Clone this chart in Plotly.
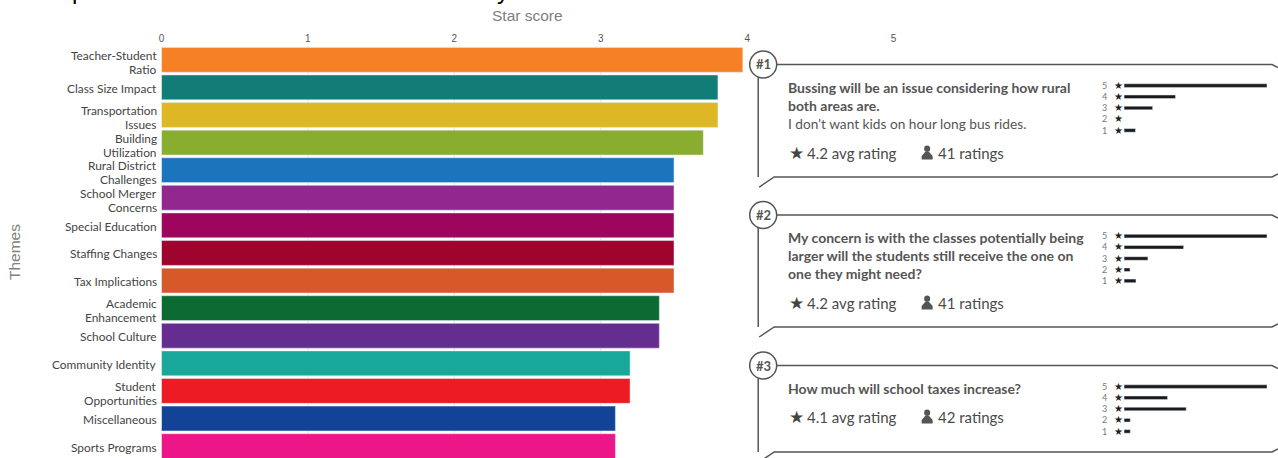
import plotly.graph_objects as go

W, H = 1278, 458

themes = ["Teacher-Student<br>Ratio", "Class Size Impact", "Transportation<br>Issues",
          "Building<br>Utilization", "Rural District<br>Challenges", "School Merger<br>Concerns",
          "Special Education", "Staffing Changes", "Tax Implications",
          "Academic<br>Enhancement", "School Culture", "Community Identity",
          "Student<br>Opportunities", "Miscellaneous", "Sports Programs"]
star_scores = [3.97, 3.8, 3.8, 3.7, 3.5, 3.5, 3.5, 3.5, 3.5, 3.4, 3.4, 3.2, 3.2, 3.1, 3.1]
bar_colors = ["#F58025", "#117D76", "#DDB824", "#89AD2E", "#1C75BC", "#92278F", "#9E065D",
              "#9E042E", "#D75828", "#0C6A33", "#662D91", "#17A899", "#ED1C24", "#134397", "#EC1689"]
score_ticks = [0, 1, 2, 3, 4, 5]
grid_scores = [1, 2, 3]

star_levels = [5, 4, 3, 2, 1]
comment_1_counts = [25, 9, 5, 0, 2]
comment_2_counts = [24, 10, 4, 1, 2]
comment_3_counts = [23, 7, 10, 1, 1]

comment_1_lines = ["<b>Bussing will be an issue considering how rural</b>",
                   "<b>both areas are.</b>",
                   "I don't want kids on hour long bus rides."]
comment_2_lines = ["<b>My concern is with the classes potentially being</b>",
                   "<b>larger will the students still receive the one on</b>",
                   "<b>one they might need?</b>"]
comment_3_lines = ["<b>How much will school taxes increase?</b>"]
avg_ratings = ["4.2", "4.2", "4.1"]
rating_counts = ["41", "41", "42"]

FONT = "Lato"
INK = "#555555"


def px(x):
    # Page pixel to paper fraction, with a small correction for the plot inset
    return (x - 2.5 * (1 - x / W)) / W


def py(y):
    return 1 - y / H


fig = go.Figure()
fig.add_bar(x=star_scores, y=themes, orientation="h", marker_color=bar_colors,
            width=0.9, xaxis="x", yaxis="y", showlegend=False)

# Full-width axes so paper coordinates line up with the page
fig.update_layout(
    width=W, height=H, autosize=False,
    margin=dict(l=0, r=0, t=0, b=0),
    paper_bgcolor="white", plot_bgcolor="white",
    showlegend=False,
    xaxis=dict(domain=[px(161), 1], range=[0, (W - 161) / 146.5], side="top",
               tickvals=score_ticks, ticks="", showline=False, zeroline=False,
               showgrid=False, anchor="y", ticklabelstandoff=1,
               tickfont=dict(family="Liberation Sans", size=10, color="#555555")),
    yaxis=dict(domain=[0, py(46)], range=[14.43, -0.5], type="category",
               categoryorder="array", categoryarray=themes, showticklabels=False,
               ticks="", showline=False, showgrid=False, zeroline=False, anchor="x"),
)

shapes = []
notes = []

# Score gridlines sit beneath the bars and stop short of the comment panels
for score in grid_scores:
    shapes.append(dict(type="line", xref="x", yref="paper", x0=score, x1=score, y0=0, y1=py(46),
                       layer="below", line=dict(color="#E4E4E4", width=1)))

# Theme names, written line by line to keep the tight two-line spacing
for theme in themes:
    parts = theme.split("<br>")
    offsets = [-4.5, 9.5] if len(parts) == 2 else [1]
    for part, offset in zip(parts, offsets):
        notes.append(dict(xref="paper", yref="y", x=px(159), y=theme, text=part, showarrow=False,
                          xanchor="right", yanchor="middle", yshift=-offset,
                          font=dict(family=FONT, size=11.9, color="#444444")))


def note(x, y, text, size, color=INK, family=FONT, anchor="left", angle=0):
    notes.append(dict(xref="paper", yref="paper", x=px(x), y=py(y), text=text, showarrow=False,
                      xanchor=anchor, yanchor="middle", textangle=angle,
                      font=dict(family=family, size=size, color=color)))


def line_path(d, width=1.5, color=INK, fill=None):
    shapes.append(dict(type="path", xref="paper", yref="paper", path=d,
                       line=dict(color=color, width=width), fillcolor=fill))


def to_path(points):
    return "M " + " L ".join(f"{px(a):.5f},{py(b):.5f}" for a, b in points)


def person_icon(cx, cy):
    # Head and shoulders
    shapes.append(dict(type="circle", xref="paper", yref="paper",
                       x0=px(cx - 3), x1=px(cx + 3), y0=py(cy - 7.5), y1=py(cy - 1),
                       fillcolor=INK, line=dict(width=0)))
    line_path(to_path([(cx - 2, cy - 1), (cx + 2, cy - 1), (cx + 5.5, cy + 3), (cx + 5.5, cy + 6.5),
                       (cx - 5.5, cy + 6.5), (cx - 5.5, cy + 3)]) + " Z", width=0, fill=INK)


def panel(rank, top, bottom, lines, avg, count, rating_y, first_line_y):
    cx = 763
    # Speech-bubble outline with its number badge
    line_path(to_path([(cx + 13.5, top), (1272, top), (1278, top + 3)]))
    line_path(to_path([(758, top + 13), (758, bottom)]))
    line_path(to_path([(759, bottom + 10), (774, bottom), (1272, bottom), (1278, bottom - 3)]))
    shapes.append(dict(type="circle", xref="paper", yref="paper",
                       x0=px(cx - 13.5), x1=px(cx + 13.5), y0=py(top - 13.5), y1=py(top + 13.5),
                       fillcolor="white", line=dict(color=INK, width=1.5)))
    note(cx, top, f"<b>#{rank}</b>", 13, anchor="center")
    for i, text in enumerate(lines):
        note(786, first_line_y + i * 18, text, 14 if "<b>" in text else 13.7)
    note(796, rating_y, "★", 17, color="#444444", family="DejaVu Sans", anchor="center")
    note(805, rating_y, f"{avg} avg rating", 15, color="#4a4a4a")
    person_icon(927, rating_y)
    note(936, rating_y, f"{count} ratings", 15, color="#4a4a4a")


panel(1, 64.5, 177, comment_1_lines, avg_ratings[0], rating_counts[0], 153, 87.5)
panel(2, 215, 327, comment_2_lines, avg_ratings[1], rating_counts[1], 303, 237.5)
panel(3, 365.5, 452, comment_3_lines, avg_ratings[2], rating_counts[2], 417, 388.5)

# Small rating histograms, one pair of axes per comment
histograms = [(comment_1_counts, 80), (comment_2_counts, 230.5), (comment_3_counts, 381)]
labels = [f'<span style="color:#777777">{s}</span>   '
          f'<span style="color:#222222;font-size:9.5px">★</span>' for s in star_levels]
for i, (counts, y_top) in enumerate(histograms, start=2):
    fig.add_bar(x=counts, y=star_levels, orientation="h", marker_color="#1A1A1A",
                width=0.32, xaxis=f"x{i}", yaxis=f"y{i}", showlegend=False)
    fig.update_layout({
        f"xaxis{i}": dict(domain=[px(1124), px(1267)], range=[0, max(counts)], visible=False,
                          anchor=f"y{i}"),
        f"yaxis{i}": dict(domain=[py(y_top + 56), py(y_top)], range=[0.5, 5.5], tickvals=star_levels,
                          ticktext=labels, ticks="", showline=False, showgrid=False, zeroline=False,
                          anchor=f"x{i}", tickfont=dict(family=FONT, size=9)),
    })

# Axis titles and the lower edge of the heading cut off by the page top
note(527, 15, "Star score", 15.5, color="#808080", family="Liberation Sans", anchor="center")
note(14, 252.5, "Themes", 15.5, color="#808080", family="Liberation Sans", anchor="center", angle=-90)
note(78, -10, "p", 24, color="black", family="Liberation Sans", anchor="center")
note(503, -10, "y", 24, color="black", family="Liberation Sans", anchor="center")

fig.update_layout(shapes=shapes, annotations=notes)
fig.write_html("out.html")
